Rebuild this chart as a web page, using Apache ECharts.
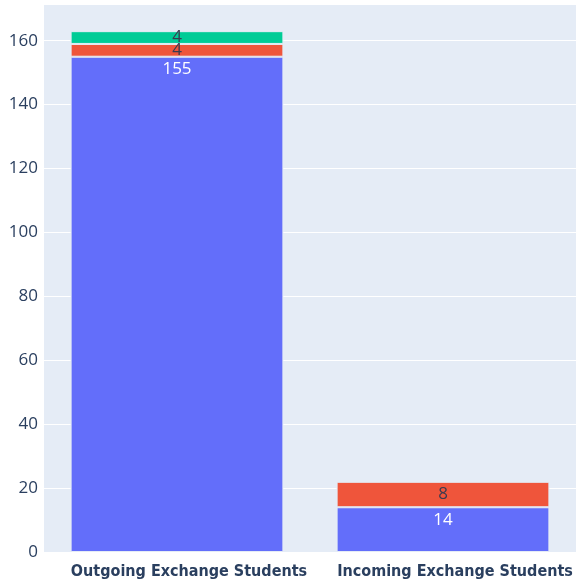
<!DOCTYPE html>
<html><head><meta charset="utf-8">
<script src="https://cdn.jsdelivr.net/npm/echarts@6/dist/echarts.min.js"></script>
<style>html,body{margin:0;padding:0;background:#fff}#c{width:587px;height:583px}</style>
</head><body><div id="c"></div>
<script>
const categories = ["Outgoing Exchange Students", "Incoming Exchange Students"];
const seriesA = [155, 14];
const seriesB = [4, 8];
const seriesC = [4, 0];
const yTicks = [0, 20, 40, 60, 80, 100, 120, 140, 160];

const chart = echarts.init(document.getElementById('c'));
const lbl = (color, pos, dist) => ({show: true, position: pos, color: color, fontSize: 17, fontFamily: 'Open Sans', distance: dist,
  formatter: p => p.value > 0 ? p.value : ''});
chart.setOption({
  animation: false,
  backgroundColor: '#fff',
  grid: {left: 44, right: 11, top: 4, bottom: 31, backgroundColor: '#E5ECF6', show: true, borderWidth: 0},
  xAxis: {type: 'category', data: categories,
    axisLine: {show: false}, axisTick: {show: false},
    axisLabel: {interval: 0, color: '#2a3f5f', fontSize: 16, fontWeight: 'bold', fontFamily: 'DejaVu Sans Condensed', margin: 12,
      padding: [0, 0, 0, 24]}},
  yAxis: {type: 'value', min: 0, max: 171.5, interval: 20,
    axisLabel: {color: '#2a3f5f', fontSize: 17, fontFamily: 'Open Sans', margin: 6,
      formatter: v => yTicks.includes(v) ? v : ''},
    splitLine: {lineStyle: {color: '#fff', width: 1}},
    axisLine: {show: false}, axisTick: {show: false}},
  series: [
    {type: 'bar', stack: 's', data: seriesA, barCategoryGap: '20%', itemStyle: {color: '#636EFA', borderColor: '#E5ECF6', borderWidth: 1}, label: lbl('#fff', 'insideTop', 4)},
    {type: 'bar', stack: 's', data: seriesB, itemStyle: {color: '#EF553B', borderColor: '#E5ECF6', borderWidth: 1}, label: lbl('#3b3b4f', 'inside', 2)},
    {type: 'bar', stack: 's', data: seriesC, itemStyle: {color: '#00CC96', borderColor: '#E5ECF6', borderWidth: 1}, label: lbl('#3b3b4f', 'inside', 2)}
  ]
});
</script></body></html>
